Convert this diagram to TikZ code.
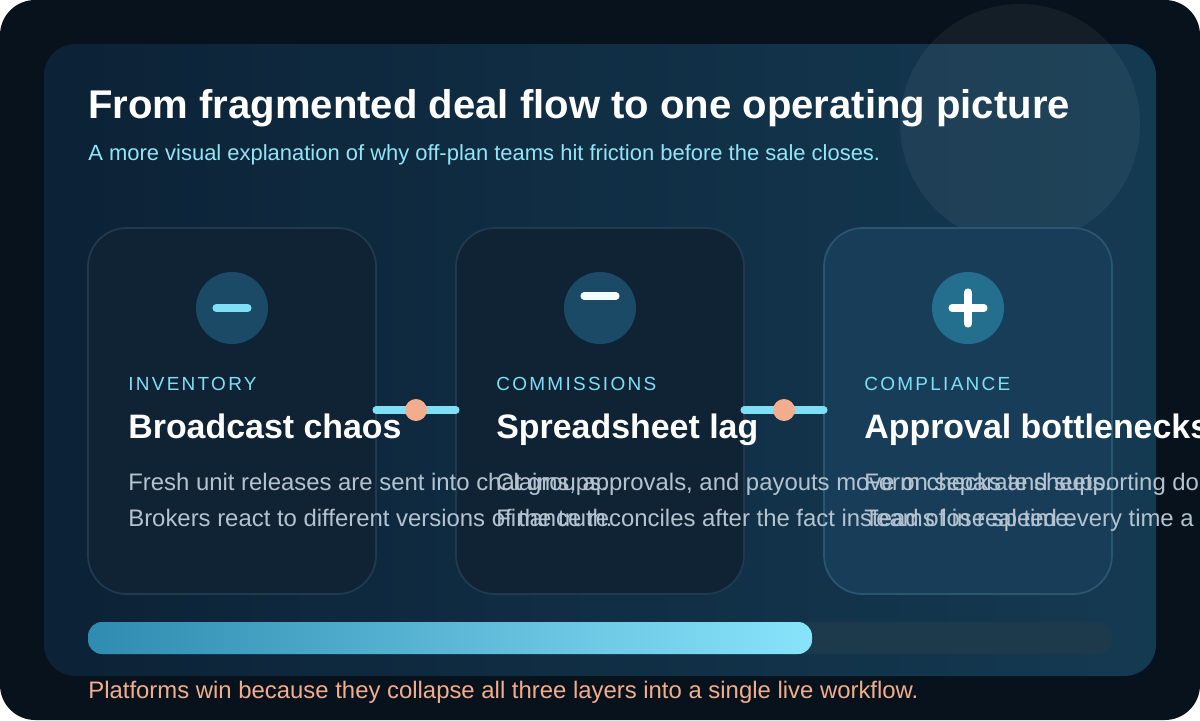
\documentclass[tikz,border=0pt]{standalone}
\usepackage{fontspec}
\setmainfont{Liberation Sans}
\usetikzlibrary{positioning}
\definecolor{bgdark}{HTML}{07121C}
\definecolor{panelA}{HTML}{0C2236}
\definecolor{panelB}{HTML}{143A52}
\definecolor{cardfill}{HTML}{0F2335}
\definecolor{cardline}{HTML}{213A4F}
\definecolor{cardhi}{HTML}{183D59}
\definecolor{iconbg}{HTML}{1B4A66}
\definecolor{iconhi}{HTML}{256F8E}
\definecolor{cyanish}{HTML}{7FE0F5}
\definecolor{peach}{HTML}{F2AE8C}
\definecolor{bodygrey}{HTML}{B4C3CF}
\definecolor{trackc}{HTML}{1D394C}
\definecolor{barA}{HTML}{2F8BB0}
\definecolor{barB}{HTML}{88E4FB}
\tikzset{
  every node/.style={inner sep=0pt},
  card/.style={draw=cardline, line width=1pt, fill=cardfill, rounded corners=22pt},
  kicker/.style={anchor=base west, text=cyanish, font=\fontsize{10.8}{12}\selectfont\addfontfeature{LetterSpace=12}},
  cardtitle/.style={anchor=base west, text=white, font=\fontsize{19.3}{22}\selectfont\bfseries},
  bodytext/.style={anchor=base west, text=bodygrey, font=\fontsize{13.6}{20}\selectfont},
  link/.style={cyanish, line width=4pt, line cap=round},
}
\begin{document}
\begin{tikzpicture}[x=0.02cm, y=-0.02cm]
    % background and panel
    \fill[bgdark, rounded corners=20pt] (0,0) rectangle (1200,720);
    \useasboundingbox (0,0) rectangle (1200,720);
    \shade[left color=panelA, right color=panelB, rounded corners=18pt] (44,44) rectangle (1156,676);
    \fill[white, opacity=0.05] (1020,124) circle (120);

    % heading
    \node[anchor=base west, text=white, font=\fontsize{22.8}{26}\selectfont\bfseries] (title) at (88,118)
       {From fragmented deal flow to one operating picture};
    \node[anchor=base west, text=cyanish!85!white, font=\fontsize{12.5}{14}\selectfont] (subtitle) at (88,160)
       {A more visual explanation of why off-plan teams hit friction before the sale closes.};

    % cards
    \draw[card] (88,228) rectangle (376,594);
    \draw[card] (456,228) rectangle (744,594);
    \draw[card, fill=cardhi, draw=cardline!60!cyanish!40!cardhi] (824,228) rectangle (1112,594);

    % icons
    \fill[iconbg] (232,308) circle (36);
    \draw[cyanish, line width=4pt, line cap=round] (216,308) -- (248,308);
    \fill[iconbg] (600,308) circle (36);
    \draw[white!90!cyanish, line width=4pt, line cap=round] (584,296) -- (616,296);
    \fill[iconhi] (968,308) circle (36);
    \draw[white, line width=4pt, line cap=round] (952,308) -- (984,308) (968,292) -- (968,324);

    % card texts
    \node[kicker] (k1) at (128,390) {INVENTORY};
    \node[cardtitle] (t1) at (128,438) {Broadcast chaos};
    \node[bodytext] (b1) at (128,490) {Fresh unit releases are sent into chat groups.};
    \node[bodytext] (b1b) at (128,526) {Brokers react to different versions of the truth.};
    \node[kicker] (k2) at (496,390) {COMMISSIONS};
    \node[cardtitle] (t2) at (496,438) {Spreadsheet lag};
    \node[bodytext] (b2) at (496,490) {Claims, approvals, and payouts move on separate sheets.};
    \node[bodytext] (b2b) at (496,526) {Finance reconciles after the fact instead of in real time.};
    \node[kicker] (k3) at (864,390) {COMPLIANCE};
    \node[cardtitle] (t3) at (864,438) {Approval bottlenecks};
    \node[bodytext] (b3) at (864,490) {Form checks and supporting documents stall.};
    \node[bodytext] (b3b) at (864,526) {Teams lose speed every time a file goes missing.};

    % links between cards
    \coordinate (l1a) at (376,410); \coordinate (l1b) at (456,410);
    \coordinate (l2a) at (744,410); \coordinate (l2b) at (824,410);
    \draw[link] (l1a) -- (l1b);
    \fill[peach] (416,410) circle (11);
    \draw[link] (l2a) -- (l2b);
    \fill[peach] (784,410) circle (11);

    % progress bar
    \fill[trackc, rounded corners=8pt] (88,622) rectangle (1112,654);
    \shade[left color=barA, right color=barB, rounded corners=8pt] (88,622) rectangle (812,654);

    % footer
    \node[anchor=base west, text=peach, font=\fontsize{13.6}{15}\selectfont] (foot) at (88,698)
       {Platforms win because they collapse all three layers into a single live workflow.};
\end{tikzpicture}
\end{document}
